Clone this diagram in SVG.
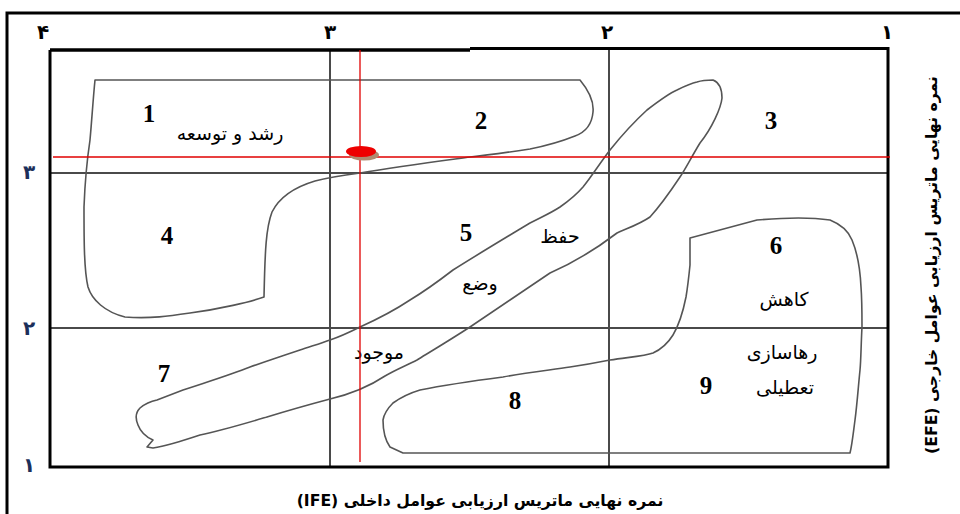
<svg xmlns="http://www.w3.org/2000/svg" width="960" height="514" viewBox="0 0 960 514">
<style>
.frame{fill:none;stroke:#000;stroke-width:3}
.grid{stroke:#4a4a4a;stroke-width:2}
.blob{fill:none;stroke:#555;stroke-width:1.6;stroke-linejoin:round}
.num{font-family:"Liberation Serif",serif;font-weight:bold;font-size:25px;fill:#000;text-anchor:middle}
.fa{font-family:"DejaVu Sans","Noto Sans",sans-serif;font-size:19px;fill:#000;text-anchor:middle}
.ax{font-family:"DejaVu Sans","Noto Sans",sans-serif;font-weight:bold;font-size:20px;text-anchor:middle}
.ttl{font-family:"DejaVu Sans","Noto Sans",sans-serif;font-weight:bold;font-size:15.7px;fill:#000;text-anchor:middle}
.red{stroke:#e00000;stroke-width:1.3}
</style>
<rect width="960" height="514" fill="#fff"/>
<g id="outer-frame">
<path class="frame" d="M7,514 V13 H960"/>
</g>
<g id="axis-top">
<text class="ax" x="43" y="39" fill="#000">۴</text>
<text class="ax" x="330" y="39" fill="#000">۳</text>
<text class="ax" x="607" y="39" fill="#000">۲</text>
<text class="ax" x="887" y="39" fill="#000">۱</text>
</g>
<g id="axis-left">
<text class="ax" x="29" y="179" fill="#1c2f5a">۳</text>
<text class="ax" x="29" y="335" fill="#1c2f5a">۲</text>
<text class="ax" x="29" y="472" fill="#1c2f5a">۱</text>
</g>
<g id="grid">
<line class="grid" x1="330" y1="50" x2="330" y2="467"/>
<line class="grid" x1="609" y1="50" x2="609" y2="467"/>
<line class="grid" x1="50" y1="173" x2="888" y2="173"/>
<line class="grid" x1="50" y1="328" x2="888" y2="328"/>
<path fill="none" stroke="#000" stroke-width="3.5" d="M50,50 H470"/>
<path fill="none" stroke="#000" stroke-width="3" d="M470,48.5 H888 V467 H50 V50"/>
</g>
<g id="connectors">
<path id="region-growth" class="blob" d="M95,80 L580,80 C590,92 594,102 593,112 C592,124 586,132 575,136 C560,142 545,146 530,149 C510,152 490,155 470,157 C440,161 400,166 360,173 C345,175 330,177 315,181 C295,187 280,196 272,212 C266,228 265,250 264,297 C250,302 220,309 190,313 C170,316 150,319 125,317 C105,312 92,300 88,287 C84,270 84,240 84,207 C85,180 87,160 90,140 C92,118 93,100 95,80 Z"/>
<path id="region-hold" class="blob" d="M713,80 C718,82 722,88 722,98 C721,108 712,128 700,143 C692,156 686,168 680,177 C670,192 660,206 650,217 C640,224 628,228 617,233 C600,246 575,262 550,273 C525,290 495,310 470,327 C450,340 430,352 417,360 C405,366 395,370 385,376 C370,386 355,393 330,399 C300,407 280,413 267,417 C240,425 220,431 200,435 C185,440 165,446 153,448 L147,447 L153,440 C146,437 141,433 138,425 C135,418 136,412 140,408 C146,403 152,401 157,400 C170,395 178,392 183,390 C210,381 230,375 250,367 C270,360 285,355 300,350 C312,346 322,343 330,340 C342,336 352,331 360,327 C380,318 395,310 410,300 C425,291 440,280 453,270 C480,253 505,238 530,223 L540,218 C548,214 554,211 560,207 C570,200 577,194 583,187 C592,176 600,163 610,150 C622,135 635,121 647,110 C660,100 668,94 677,90 C685,86 692,83 697,82 C703,80 708,80 713,80 Z"/>
<path id="region-divest" class="blob" d="M690,238 L757,220 C780,218 810,217 830,220 C840,224 848,230 852,240 C857,252 860,265 861,287 C862,300 862,315 862,327 C861,345 861,360 860,370 C858,390 857,405 855,420 C853,435 852,445 850,453 L403,453 L390,447 C385,440 383,430 383,420 C384,414 386,410 393,403 C400,398 410,393 420,390 C450,384 480,380 503,377 C525,373 550,370 570,367 C590,364 600,362 610,360 C630,357 645,356 653,353 C662,349 668,343 673,335 C679,325 683,312 686,297 C688,285 689,275 690,265 C690,255 690,245 690,238 Z"/>
</g>
<g id="cell-1"><text class="num" x="149" y="122">1</text><text class="fa" direction="rtl" x="230" y="140">رشد و توسعه</text></g>
<g id="cell-2"><text class="num" x="481" y="129">2</text></g>
<g id="cell-3"><text class="num" x="771" y="129">3</text></g>
<g id="cell-4"><text class="num" x="167" y="244">4</text></g>
<g id="cell-5"><text class="num" x="466" y="241">5</text><text class="fa" direction="rtl" x="560" y="243">حفظ</text><text class="fa" direction="rtl" x="480" y="290">وضع</text><text class="fa" direction="rtl" x="379" y="359">موجود</text></g>
<g id="cell-6"><text class="num" x="776" y="254">6</text><text class="fa" direction="rtl" x="784" y="306">کاهش</text></g>
<g id="cell-7"><text class="num" x="164" y="382">7</text></g>
<g id="cell-8"><text class="num" x="515" y="409">8</text></g>
<g id="cell-9"><text class="num" x="706" y="394">9</text><text class="fa" direction="rtl" x="782" y="359">رهاسازی</text><text class="fa" direction="rtl" x="785" y="394">تعطیلی</text></g>
<g id="position-marker">
<line class="red" x1="360" y1="50" x2="360" y2="462"/>
<line class="red" x1="53" y1="157" x2="890" y2="157"/>
<ellipse cx="364" cy="155" rx="15" ry="5.5" fill="#b08a70"/>
<ellipse cx="361" cy="151.5" rx="15" ry="5.5" fill="#ee0000"/>
</g>
<g id="axis-titles">
<text class="ttl" direction="rtl" x="480" y="506">نمره نهایی ماتریس ارزیابی عوامل داخلی (IFE)</text>
<text class="ttl" direction="rtl" transform="translate(937,265) rotate(-90)" x="0" y="0">نمره نهایی ماتریس ارزیابی عوامل خارجی (EFE)</text>
</g>
</svg>
